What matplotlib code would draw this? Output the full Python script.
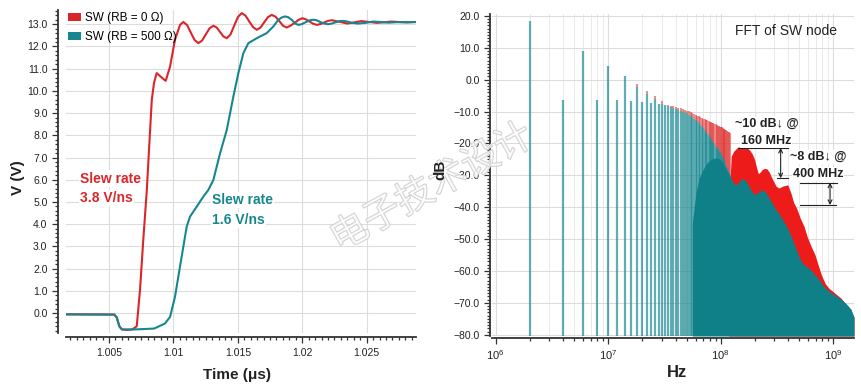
import numpy as np
import matplotlib
matplotlib.use('Agg')
import matplotlib.pyplot as plt
from matplotlib.patches import Patch
from matplotlib.ticker import MultipleLocator, FuncFormatter, LogLocator, NullFormatter
import matplotlib.patheffects as pe

plt.rcParams['font.family'] = ['Liberation Sans', 'DejaVu Sans']

RED = '#d9262b'
TEAL = '#17878f'

#%% time domain data (us, V)
red_t = [1.0016, 1.0054, 1.0056, 1.0058, 1.0060, 1.0064, 1.0068, 1.00715, 1.0074, 1.00766,
         1.00793, 1.0081, 1.00832, 1.00849, 1.0087, 1.00905, 1.0094, 1.00974, 1.01012, 1.01051,
         1.01077, 1.01106, 1.01135, 1.01164, 1.01193, 1.01222, 1.01251, 1.01281, 1.0131, 1.01336,
         1.01362, 1.01388, 1.01414, 1.01443, 1.01472, 1.01501, 1.0153, 1.01559, 1.01588, 1.01618,
         1.01647, 1.01676, 1.01705, 1.01734, 1.01763, 1.01792, 1.01822, 1.01851, 1.0188, 1.0191,
         1.0194, 1.0197, 1.0200, 1.02028, 1.02057, 1.02085, 1.02113, 1.02142, 1.02171, 1.022,
         1.02229, 1.0229, 1.0235, 1.0240, 1.0246, 1.0252, 1.0258, 1.0264, 1.0269, 1.0275,
         1.0281, 1.0289]
red_v = [-0.06, -0.07, -0.2, -0.6, -0.74, -0.76, -0.74, -0.6, 1.0, 3.3,
         5.5, 7.3, 9.6, 10.35, 10.8, 10.62, 10.45, 11.1, 12.3, 12.97,
         13.1, 12.96, 12.62, 12.29, 12.15, 12.26, 12.54, 12.82, 12.93, 12.85,
         12.65, 12.45, 12.37, 12.54, 12.94, 13.33, 13.5, 13.39, 13.13, 12.87,
         12.75, 12.85, 13.09, 13.32, 13.42, 13.34, 13.14, 12.93, 12.85, 12.94,
         13.06, 13.19, 13.27, 13.22, 13.12, 13.02, 12.97, 13.01, 13.08, 13.15,
         13.18, 13.11, 13.03, 13.08, 13.14, 13.1, 13.06, 13.09, 13.12, 13.1,
         13.08, 13.1]

teal_t = [1.0016, 1.0054, 1.0056, 1.0058, 1.0060, 1.0070, 1.0085, 1.00935, 1.00974, 1.01012,
          1.01051, 1.01077, 1.01103, 1.01129, 1.01181, 1.01232, 1.01271, 1.0131, 1.01362, 1.01414,
          1.01465, 1.01504, 1.01543, 1.01582, 1.01647, 1.01724, 1.01776, 1.01814, 1.0184, 1.01866,
          1.0189, 1.01918, 1.01945, 1.01969, 1.01995, 1.0203, 1.0206, 1.02086, 1.0211, 1.0214,
          1.0217, 1.0220, 1.0223, 1.0226, 1.0229, 1.02318, 1.0235, 1.0238, 1.0243, 1.0249,
          1.0255, 1.0261, 1.0267, 1.0273, 1.0289]
teal_v = [-0.06, -0.07, -0.2, -0.6, -0.74, -0.74, -0.7, -0.47, -0.17, 0.73,
          2.09, 2.99, 3.89, 4.34, 4.79, 5.24, 5.54, 5.99, 7.19, 8.24,
          9.74, 10.8, 11.7, 12.15, 12.37, 12.6, 12.9, 13.2, 13.3, 13.35,
          13.32, 13.2, 13.03, 12.97, 13.0, 13.1, 13.18, 13.2, 13.18, 13.1,
          13.03, 13.0, 13.03, 13.09, 13.14, 13.15, 13.12, 13.07, 13.03, 13.06,
          13.12, 13.1, 13.07, 13.09, 13.1]

#%% FFT data: discrete harmonics (MHz, dB)
harm_mhz = np.arange(2, 122, 2)
teal_harm_db = [18.3, -6.3, 8.9, -6.3, 4.2, -6.4, 1.0, -6.7, -2.2, -7.0,
                -4.6, -7.3, -6.2, -7.6, -7.6, -7.9, -8.2, -8.5, -8.8, -9.1,
                -9.4, -9.7, -10.0, -10.3, -10.6, -11.0, -11.4, -11.8, -12.2, -12.6,
                -13.1, -13.6, -14.1, -14.6, -15.1, -15.7, -16.3, -16.9, -17.5, -18.1,
                -18.7, -19.3, -19.8, -20.3, -20.8, -21.3, -21.8, -22.3, -22.8, -23.4,
                -24.0, -24.6, -25.2, -25.8, -26.4, -27.1, -27.8, -28.5, -29.2, -30.0]
red_harm_db = [18.3, -6.3, 8.9, -6.3, 4.2, -6.4, 1.0, -6.7, -1.2, -7.0,
               -3.4, -7.3, -5.0, -7.6, -6.6, -7.8, -7.9, -8.2, -8.4, -8.6,
               -8.8, -9.0, -9.2, -9.5, -9.7, -9.9, -10.2, -10.5, -10.8, -11.1,
               -11.3, -11.5, -11.7, -11.9, -12.2, -12.4, -12.6, -12.8, -13.0, -13.2,
               -13.4, -13.5, -13.7, -13.9, -14.0, -14.2, -14.4, -14.5, -14.7, -14.9,
               -15.0, -15.2, -15.4, -15.5, -15.7, -15.9, -16.1, -16.3, -16.5, -16.7]

# dense part of the spectrum, read as envelopes (MHz, dB)
red_env_mhz = [118, 124, 130, 136, 142, 150, 160, 170, 180, 190, 200, 208, 216, 224, 234,
               246, 258, 270, 282, 296, 312, 330, 350, 372, 395, 420, 445, 475, 510, 550,
               590, 640, 690, 740, 790, 850, 920, 1000, 1080, 1170, 1270, 1380, 1530]
red_env_db = [-40, -24, -22.5, -21.8, -21.2, -21.0, -21.0, -21.3, -22.0, -23.2, -25.0, -27.5,
              -29.5, -29.0, -28.2, -27.8, -28.0, -29.0, -30.5, -32.0, -33.5, -34.0, -33.5,
              -33.2, -33.0, -35.5, -38.5, -40.5, -43.5, -46.0, -49.5, -52.5, -55.0, -58.5,
              -61.5, -64.0, -65.5, -66.5, -67.5, -68.5, -70.0, -71.5, -74.5]
teal_env_mhz = [56, 60, 64, 70, 76, 82, 88, 94, 100, 106, 112, 118, 124, 130, 138, 146, 155,
                165, 176, 188, 200, 214, 230, 246, 264, 284, 306, 330, 356, 385, 415, 450,
                490, 530, 575, 625, 680, 740, 810, 890, 980, 1080, 1190, 1320, 1440, 1530]
teal_env_db = [-45, -36, -31, -28, -26, -25, -24.6, -24.6, -25.2, -26.5, -28.0, -29.5, -31.0,
               -32.5, -33.0, -32.0, -31.0, -31.5, -33.0, -35.0, -36.0, -35.5, -34.5, -35.0,
               -36.5, -38.5, -40.5, -42.0, -44.0, -46.0, -48.5, -51.5, -55.0, -57.5, -58.5,
               -59.5, -61.0, -62.5, -64.5, -66.0, -67.0, -68.0, -69.0, -70.5, -72.0, -74.5]

DB_FLOOR = -80.4

#%% figure
fig = plt.figure(figsize=(8.61, 3.86), dpi=100)
W, H = 861, 386
ax1 = fig.add_axes([66 / W, 1 - 333 / H, 350 / W, 323 / H])
ax2 = fig.add_axes([492 / W, 1 - 336 / H, 362 / W, 322 / H])

for ax in (ax1, ax2):
    for s in ('top', 'right'):
        ax.spines[s].set_visible(False)
    for s in ('left', 'bottom'):
        ax.spines[s].set_color('#333333')
        ax.spines[s].set_linewidth(1.3)
    ax.tick_params(which='both', direction='out', color='#333333', labelsize=7.5,
                   labelcolor='#222222', width=0.9)
    ax.tick_params(which='major', length=4)
    ax.tick_params(which='minor', length=2.5)
    ax.set_axisbelow(True)

#%% left: switching waveforms
ax1.spines['left'].set_position(('outward', 5.8))
ax1.spines['bottom'].set_position(('outward', 3))
ax1.plot(red_t, red_v, color=RED, lw=1.5, zorder=3)
ax1.plot(teal_t, teal_v, color=TEAL, lw=1.5, zorder=4)
ax1.set_xlim(1.00166, 1.02883)
ax1.set_ylim(-0.9, 13.64)
ax1.xaxis.set_major_locator(MultipleLocator(0.005))
ax1.xaxis.set_minor_locator(MultipleLocator(0.0005))
ax1.yaxis.set_major_locator(MultipleLocator(1.0))
ax1.yaxis.set_minor_locator(MultipleLocator(0.2))
ax1.xaxis.set_major_formatter(FuncFormatter(lambda v, p: '%g' % round(v, 4)))
ax1.yaxis.set_major_formatter(FuncFormatter(lambda v, p: '%.1f' % v))
ax1.grid(True, which='major', color='#dcdcdc', lw=0.8)
ax1.set_xlabel('Time (μs)', fontsize=11, fontweight='bold', color='#222222')
ax1.xaxis.set_label_coords(0.489, -0.108)
ax1.set_ylabel('V (V)', fontsize=11, fontweight='bold', color='#222222')
ax1.yaxis.set_label_coords(-0.117, 0.48)

handles = [Patch(facecolor=RED, edgecolor='none'), Patch(facecolor=TEAL, edgecolor='none')]
ax1.legend(handles, ['SW (RB = 0 Ω)', 'SW (RB = 500 Ω)'], loc='upper left', frameon=False,
           fontsize=8.5, handlelength=1.1, handleheight=0.7, handletextpad=0.35,
           labelspacing=0.55, borderaxespad=0.0, borderpad=0.2)

box = dict(facecolor='white', edgecolor='none', pad=1.0)
ax1.text(1.00275, 6.04, 'Slew rate', color=RED, fontsize=10, fontweight='bold',
         va='center', ha='left', bbox=box)
ax1.text(1.00275, 5.18, '3.8 V/ns', color=RED, fontsize=10, fontweight='bold',
         va='center', ha='left', bbox=box)
ax1.text(1.0130, 5.09, 'Slew rate', color=TEAL, fontsize=10, fontweight='bold',
         va='center', ha='left', bbox=box)
ax1.text(1.0130, 4.19, '1.6 V/ns', color=TEAL, fontsize=10, fontweight='bold',
         va='center', ha='left', bbox=box)

#%% right: FFT of SW node
ax2.spines['left'].set_position(('outward', 1.5))
ax2.spines['bottom'].set_position(('outward', 1.2))
ax2.set_xscale('log')
ax2.set_xlim(0.927e6, 1.53e9)
ax2.set_ylim(DB_FLOOR, 20.6)

hz = harm_mhz * 1e6
teal_h = np.array(teal_harm_db)
red_h = np.array(red_harm_db)
# red part only where it pokes above the teal bar
ax2.vlines(hz, teal_h, np.maximum(red_h, teal_h), color='#e03030', alpha=0.55, lw=1.5, zorder=2)
ax2.fill_between(np.array(red_env_mhz) * 1e6, red_env_db, DB_FLOOR, color='#ee1b1b',
                 lw=0, zorder=2)
ax2.vlines(hz, DB_FLOOR, teal_h, color=TEAL, alpha=0.68, lw=1.6, zorder=3)
ax2.fill_between(np.array(teal_env_mhz) * 1e6, teal_env_db, DB_FLOOR, color='#0f8088',
                 lw=0, zorder=3)

ax2.yaxis.set_major_locator(MultipleLocator(10))
ax2.yaxis.set_minor_locator(MultipleLocator(1))
ax2.yaxis.set_major_formatter(FuncFormatter(lambda v, p: ('%.1f' % v).replace('-', '\u2212')))
ax2.xaxis.set_major_locator(LogLocator(base=10, numticks=10))
ax2.xaxis.set_minor_locator(LogLocator(base=10, subs=np.arange(2, 10), numticks=20))
ax2.xaxis.set_minor_formatter(NullFormatter())
ax2.grid(True, which='major', color='#dcdcdc', lw=0.8)
ax2.grid(True, which='minor', axis='x', color='#e6e6e6', lw=0.6)
ax2.tick_params(axis='x', labelsize=8)
ax2.set_xlabel('Hz', fontsize=12, fontweight='bold', color='#222222')
ax2.xaxis.set_label_coords(0.51, -0.09)

ax2.text(377e6, 15.2, 'FFT of SW node', fontsize=10, ha='center', va='center', color='#222222')

# measurement markers
ax2.plot([142.6e6, 399e6], [-21.4, -21.4], color='#222222', lw=0.8, zorder=5)
ax2.plot([315e6, 399e6], [-30.9, -30.9], color='#222222', lw=0.8, zorder=5)
ax2.annotate('', xy=(341e6, -30.9), xytext=(341e6, -21.4),
             arrowprops=dict(arrowstyle='<->', color='#222222', lw=0.8,
                             mutation_scale=7, shrinkA=0, shrinkB=0), zorder=5)
ax2.plot([507e6, 1074e6], [-32.3, -32.3], color='#222222', lw=0.8, zorder=5)
ax2.plot([507e6, 1060e6], [-39.3, -39.3], color='#222222', lw=0.8, zorder=5)
ax2.annotate('', xy=(937e6, -39.3), xytext=(937e6, -32.3),
             arrowprops=dict(arrowstyle='<->', color='#222222', lw=0.8,
                             mutation_scale=7, shrinkA=0, shrinkB=0), zorder=5)
tbox = dict(facecolor='white', edgecolor='none', pad=0.5)
ax2.text(256e6, -13.8, '~10 dB↓ @', fontsize=9, fontweight='bold', ha='center', va='center',
         color='#222222', bbox=tbox, zorder=6)
ax2.text(254e6, -19.2, '160 MHz', fontsize=9, fontweight='bold', ha='center', va='center',
         color='#222222', bbox=tbox, zorder=6)
ax2.text(733e6, -24.2, '~8 dB↓ @', fontsize=9, fontweight='bold', ha='center', va='center',
         color='#222222', bbox=tbox, zorder=6)
ax2.text(733e6, -29.6, '400 MHz', fontsize=9, fontweight='bold', ha='center', va='center',
         color='#222222', bbox=tbox, zorder=6)

#%% watermark
fig.text(432 / W, 1 - 188 / H, '电子技术设计', fontsize=27, rotation=29,
         family=['Noto Sans CJK SC', 'DejaVu Sans'], color=(1, 1, 1, 0.55),
         ha='center', va='center', rotation_mode='anchor', zorder=20,
         path_effects=[pe.withStroke(linewidth=1.0, foreground='#cccccc')])

# y label of the FFT panel, kept above the watermark
fig.text(440 / W, 1 - 170 / H, 'dB', fontsize=11, fontweight='bold', color='#222222',
         rotation=90, ha='center', va='center', zorder=25)

fig.savefig('out.png', dpi=100)
